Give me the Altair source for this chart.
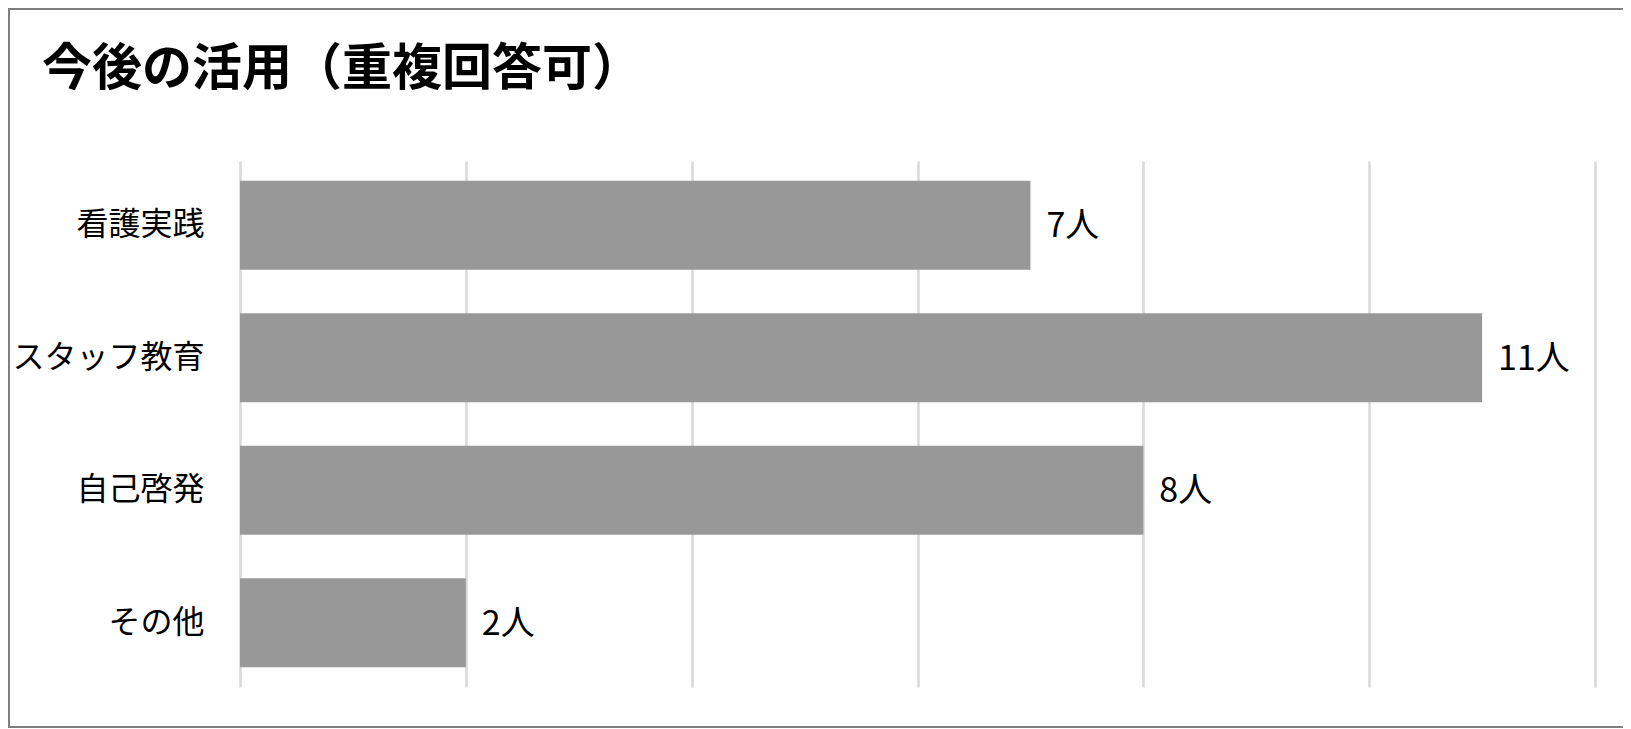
import altair as alt
import pandas as pd

categories = ["看護実践", "スタッフ教育", "自己啓発", "その他"]
counts = [7, 11, 8, 2]
unit = "人"
x_ticks = [0, 2, 4, 6, 8, 10, 12]
title_text = "今後の活用（重複回答可）"

df = pd.DataFrame({"category": categories, "count": counts})
df["label"] = [f"{c}{unit}" for c in counts]

FONT = "Noto Sans CJK JP"
W, H = 1355, 526
FRAME = "#7f7f7f"

y_enc = alt.Y(
    "category:N",
    sort=categories,
    scale=alt.Scale(paddingInner=0.33, paddingOuter=0.15),
    axis=alt.Axis(
        title=None, ticks=False, domain=False, grid=False,
        labelFontSize=32, labelFont=FONT, labelColor="#000000",
        labelPadding=36, labelLimit=600,
    ),
)
x_enc = alt.X(
    "count:Q",
    scale=alt.Scale(domain=[0, 12], nice=False),
    axis=alt.Axis(
        title=None, values=x_ticks, labels=False, ticks=False, domain=False,
        grid=True, gridColor="#d9d9d9", gridWidth=2.5,
    ),
)

bars = alt.Chart(df).mark_bar(color="#989898").encode(x=x_enc, y=y_enc)

text = alt.Chart(df).mark_text(
    align="left", baseline="middle", dx=16, dy=2,
    fontSize=34, font=FONT, color="#000000",
).encode(
    x="count:Q",
    y=alt.Y("category:N", sort=categories),
    text="label:N",
)

one = pd.DataFrame({"f": [0]})
frame_left = alt.Chart(one).mark_rule(color=FRAME, strokeWidth=2).encode(
    x=alt.value(-231), y=alt.value(-152), y2=alt.value(566)
)
frame_top = alt.Chart(one).mark_rule(color=FRAME, strokeWidth=2).encode(
    x=alt.value(-232), x2=alt.value(1400), y=alt.value(-152)
)
frame_bottom = alt.Chart(one).mark_rule(color=FRAME, strokeWidth=2).encode(
    x=alt.value(-232), x2=alt.value(1400), y=alt.value(566)
)

chart = alt.layer(frame_left, frame_top, frame_bottom, bars, text).properties(
    width=W,
    height=H,
    title=alt.TitleParams(
        text=title_text, anchor="start", frame="group", font=FONT, fontSize=50,
        fontWeight="bold", color="#000000", baseline="alphabetic",
        offset=0, dx=-198, dy=127,
    ),
    autosize=alt.AutoSizeParams(type="none"),
    padding={"left": 232, "top": 153, "right": 28, "bottom": 41},
    background="#ffffff",
).configure_view(strokeWidth=0)

chart.save("out.html", embed_options={"renderer": "svg", "actions": False})
